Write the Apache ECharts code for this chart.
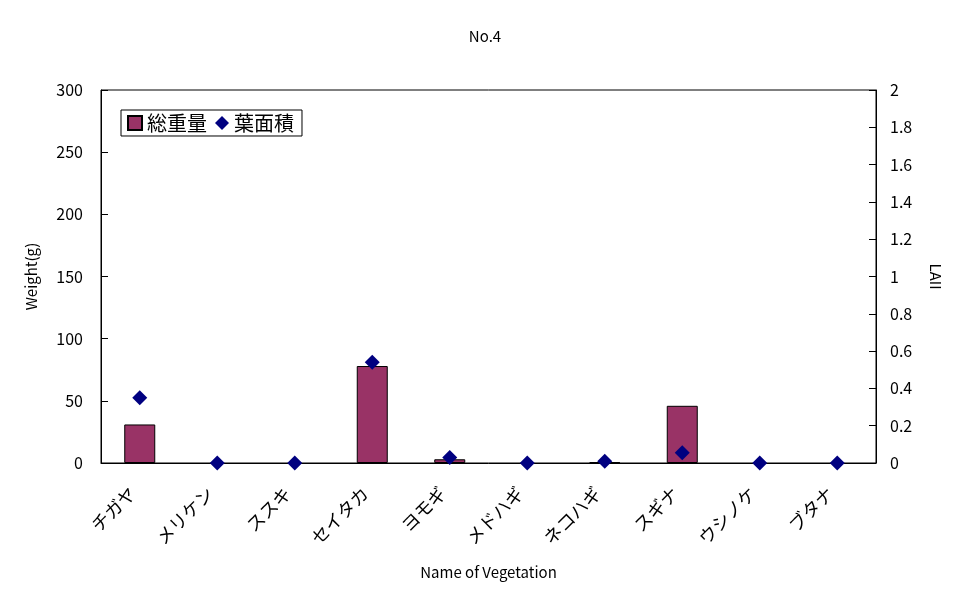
<!DOCTYPE html>
<html><head><meta charset="utf-8">
<script src="https://cdn.jsdelivr.net/npm/echarts@6/dist/echarts.min.js"></script>
<style>html,body{margin:0;padding:0;background:#fff}#c{width:970px;height:603px}</style>
</head><body><div id="c"></div>
<script>
const categories = ['チガヤ','メリケン','ススキ','セイタカ','ヨモギ','メドハギ','ネコハギ','スギナ','ウシノケ','ブタナ'];
const weight = [31, 0, 0, 78, 3, 0, 0.8, 46, 0, 0];
const lai = [0.35, 0, 0, 0.54, 0.03, 0, 0.01, 0.055, 0, 0];
const leftTicks = [0, 300, 50];
const rightTicks = [0, 2, 0.2];

const font = '"Noto Sans CJK JP", "Liberation Sans", sans-serif';
const chart = echarts.init(document.getElementById('c'), null, {renderer:'canvas'});
chart.setOption({
  animation:false,
  backgroundColor:'#fff',
  textStyle:{fontFamily:font, color:'#000'},
  title:{text:'No.4', left:'center', top:24, textStyle:{fontFamily:font, fontSize:15, fontWeight:'normal', color:'#000'}},
  legend:{
    left:121, top:110, orient:'horizontal',
    borderColor:'#000', borderWidth:1, padding:[3,8,3,6], itemGap:8,
    itemWidth:14, itemHeight:14,
    textStyle:{fontFamily:font, fontSize:20, color:'#000'},
    data:[{name:'総重量', icon:'rect'},{name:'葉面積', icon:'diamond'}]
  },
  grid:{left:101, right:94, top:90, bottom:140, show:true, borderColor:'#000', borderWidth:1},
  xAxis:{
    type:'category', data:categories,
    name:'Name of Vegetation', nameLocation:'middle', nameGap:102,
    nameTextStyle:{fontFamily:font, fontSize:15, color:'#000'},
    axisLine:{lineStyle:{color:'#000'}},
    axisTick:{inside:true, length:8, lineStyle:{color:'#000'}},
    axisLabel:{rotate:45, fontFamily:font, fontSize:18, color:'#000', margin:20, padding:[0,10,0,0]},
    splitLine:{show:false}
  },
  yAxis:[{
    type:'value', min:leftTicks[0], max:leftTicks[1], interval:leftTicks[2],
    name:'Weight(g)', nameLocation:'middle', nameGap:62,
    nameTextStyle:{fontFamily:font, fontSize:15, color:'#000'},
    axisLine:{show:true, lineStyle:{color:'#000'}},
    axisTick:{show:true, inside:true, length:7, lineStyle:{color:'#000'}},
    axisLabel:{fontFamily:font, fontSize:16, color:'#000', margin:18},
    splitLine:{show:false}
  },{
    type:'value', min:rightTicks[0], max:rightTicks[1], interval:rightTicks[2],
    name:'LAII', nameLocation:'middle', nameGap:52, nameRotate:-90,
    nameTextStyle:{fontFamily:font, fontSize:15, color:'#000'},
    axisLine:{show:true, lineStyle:{color:'#000'}},
    axisTick:{show:true, inside:true, length:7, lineStyle:{color:'#000'}},
    axisLabel:{fontFamily:font, fontSize:16, color:'#000', margin:14},
    splitLine:{show:false}
  }],
  series:[{
    name:'総重量', type:'bar', yAxisIndex:0, barWidth:31,
    data: weight.map(v => v === 0 ? {value:v, itemStyle:{borderWidth:0}} : v),
    itemStyle:{color:'#993366', borderColor:'#000', borderWidth:1}
  },{
    name:'葉面積', type:'scatter', data:lai, yAxisIndex:1,
    symbol:'diamond', symbolSize:[15,15],
    itemStyle:{color:'#000080', opacity:1}, z:5
  }]
});
</script></body></html>
